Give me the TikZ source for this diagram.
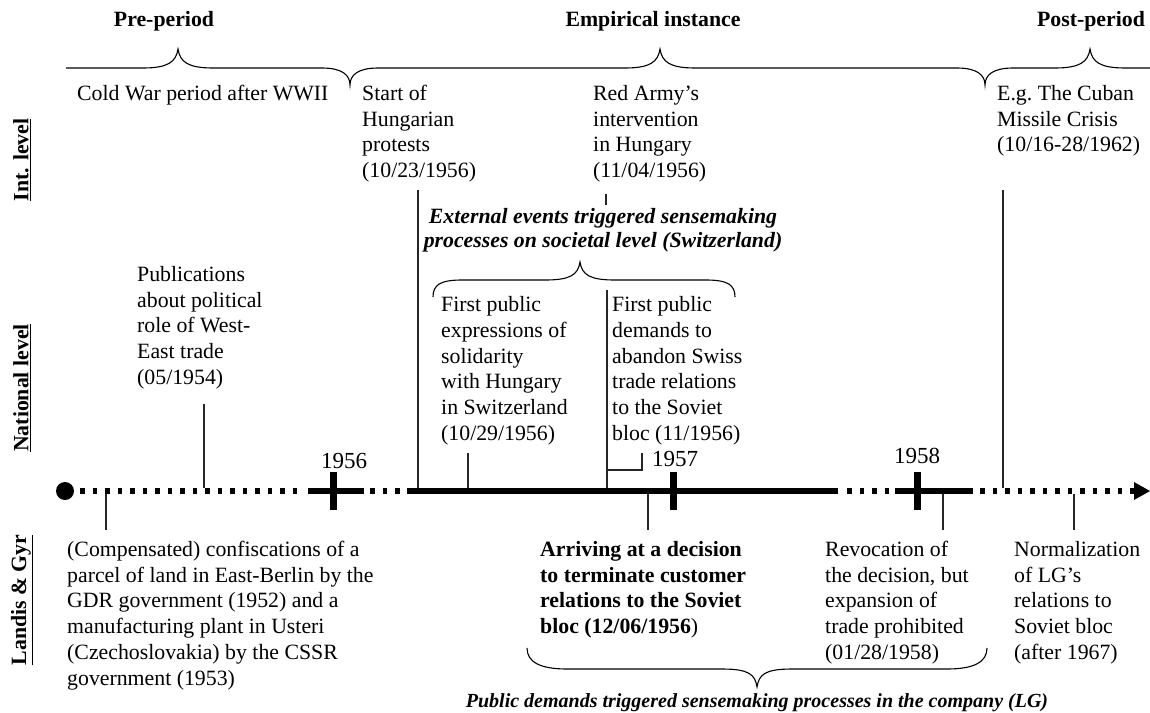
\documentclass[tikz,border=0pt]{standalone}
\usepackage{fontspec}
\setmainfont{Liberation Serif}
\begin{document}
\begin{tikzpicture}[x=1pt,y=-1pt,
  txt/.style={anchor=north west,inner sep=0pt,align=left,font=\fontsize{21.8}{25.7}\selectfont},
  head/.style={anchor=base,inner sep=0pt,font=\fontsize{21.8}{25.7}\selectfont\bfseries},
  emph/.style={inner sep=0pt,align=center,font=\fontsize{21.8}{23.8}\selectfont\bfseries\itshape},
  year/.style={anchor=base,inner sep=0pt,font=\fontsize{23}{27}\selectfont},
  lvl/.style={rotate=90,inner sep=0pt,font=\fontsize{21.8}{25.7}\selectfont\bfseries},
  thin/.style={draw=black!85,line width=1.1pt},
  brace/.style={draw=black,line width=1.1pt},
  solidline/.style={line width=6.6pt},
  dotline/.style={line width=5.3pt,dash pattern=on 4.8pt off 7.7pt},
  crossbar/.style={line width=7pt}]
\useasboundingbox (0,0) rectangle (1150,712);

% headers
\node[head] (pre) at (164,27) {Pre-period};
\node[head] (emp) at (653,27) {Empirical instance};
\node[head] (post) at (1091,27) {Post-period};

% top brace
\draw[brace] (66,68) -- (143,68) .. controls (168,68) and (176,62) .. (178,49)
  .. controls (180,62) and (188,68) .. (213,68) -- (322,68)
  .. controls (342,68) and (350,75) .. (350,85)
  .. controls (350,75) and (358,68) .. (378,68) -- (625,68)
  .. controls (650,68) and (658,62) .. (660,49)
  .. controls (662,62) and (670,68) .. (695,68) -- (957,68)
  .. controls (977,68) and (985,75) .. (985,85)
  .. controls (985,75) and (993,68) .. (1013,68) -- (1055,68)
  .. controls (1080,68) and (1088,62) .. (1090,49)
  .. controls (1092,62) and (1100,68) .. (1125,68) -- (1150,68);

% level labels
\node[lvl] (lint) at (22,160) {\underline{Int. level}};
\node[lvl] (lnat) at (22,388) {\underline{National level}};
\node[lvl] (llg) at (22,600) {\underline{Landis \& Gyr}};

% international level
\node[txt] (cold) at (77,85) {Cold War period after WWII};
\node[txt] (start) at (362,85) {Start of\\Hungarian\\protests\\(10/23/1956)};
\node[txt] (red) at (593,85) {Red Army’s\\intervention\\in Hungary\\(11/04/1956)};
\node[txt] (cuba) at (997,85) {E.g.\ The Cuban\\Missile Crisis\\(10/16-28/1962)};

% national level
\node[emph,anchor=north] (ext) at (603,208) {External events triggered sensemaking\\processes on societal level (Switzerland)};
\draw[brace] (433,297) .. controls (433,285) and (440,280) .. (462,280) -- (545,280)
  .. controls (570,280) and (578,275) .. (580,262)
  .. controls (582,275) and (590,280) .. (615,280) -- (706,280)
  .. controls (728,280) and (735,285) .. (735,297);
\node[txt] (pub) at (137,266) {Publications\\about political\\role of West-\\East trade\\(05/1954)};
\node[txt] (sol) at (441,296.5) {First public\\expressions of\\solidarity\\with Hungary\\in Switzerland\\(10/29/1956)};
\node[txt] (dem) at (612,296.5) {First public\\demands to\\abandon Swiss\\trade relations\\to the Soviet\\bloc (11/1956)};

% company level
\node[txt] (conf) at (67,541) {(Compensated) confiscations of a\\parcel of land in East-Berlin by the\\GDR government (1952) and a\\manufacturing plant in Usteri\\(Czechoslovakia) by the CSSR\\government (1953)};
\node[txt] (arr) at (540,541) {\textbf{Arriving at a decision}\\\textbf{to terminate customer}\\\textbf{relations to the Soviet}\\\textbf{bloc (12/06/1956})};
\node[txt] (rev) at (825,541) {Revocation of\\the decision, but\\expansion of\\trade prohibited\\(01/28/1958)};
\node[txt] (norm) at (1014,541) {Normalization\\of LG’s\\relations to\\Soviet bloc\\(after 1967)};
\draw[brace] (527,648) .. controls (527,662) and (540,669) .. (567,669) -- (722,669)
  .. controls (750,669) and (755,675) .. (757,687)
  .. controls (759,675) and (764,669) .. (792,669) -- (947,669)
  .. controls (974,669) and (987,662) .. (987,648);
\node[emph,anchor=base,font=\fontsize{20}{23}\selectfont\bfseries\itshape] (pubdem) at (757,707) {Public demands triggered sensemaking processes in the company (LG)};

% timeline
\coordinate (t0) at (65,491);
\fill (t0) circle (9pt);
\draw[dotline] (80,491) -- (302,491);
\draw[solidline] (308,491) -- (364,491);
\draw[dotline] (370,491) -- (402,491);
\draw[solidline] (407,491) -- (838,491);
\draw[dotline] (847,491) -- (891,491);
\draw[solidline] (895,491) -- (973,491);
\draw[dotline] (980,491) -- (1134,491);
\coordinate (tend) at (1150,491);
\fill (1134,482) -- (tend) -- (1134,500) -- cycle;
\draw[crossbar] (333,472) -- (333,510);
\draw[crossbar] (673,472) -- (673,510);
\draw[crossbar] (917,472) -- (917,510);
\node[year] (y56) at (344,468) {1956};
\node[year] (y57) at (675,466) {1957};
\node[year] (y58) at (917,463) {1958};

% connectors
\draw[thin] (418,190) -- (418,488);
\draw[thin] (606,194) -- (606,205);
\draw[thin] (1003,190) -- (1003,488);
\draw[thin] (204,404) -- (204,488);
\draw[thin] (468,453) -- (468,488);
\draw[thin] (607,290) -- (607,488);
\draw[thin] (607,470) -- (642,470) -- (642,453);
\draw[thin] (106,494) -- (106,530);
\draw[thin] (648,494) -- (648,530);
\draw[thin] (943,494) -- (943,530);
\draw[thin] (1074,494) -- (1074,530);
\end{tikzpicture}
\end{document}
